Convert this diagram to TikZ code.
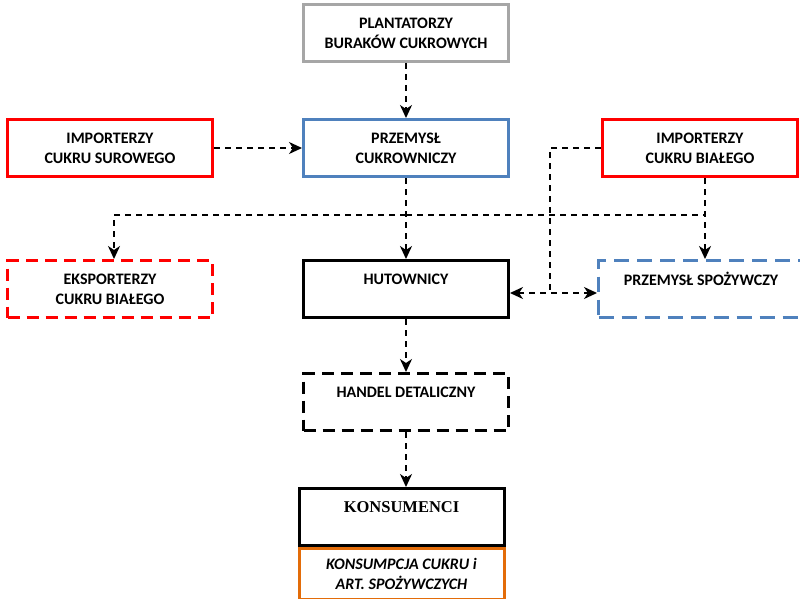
\documentclass[tikz,border=0pt]{standalone}
\usepackage{fontspec}
\setmainfont{Carlito}
\newfontfamily\serifbold{Liberation Serif}
\usetikzlibrary{arrows.meta}
\definecolor{myred}{HTML}{FF0000}
\definecolor{myblue}{HTML}{4F81BD}
\definecolor{mygray}{HTML}{A6A6A6}
\definecolor{myorange}{HTML}{E36C09}
\tikzset{
  box/.style={draw, line width=3pt, minimum width=205pt, minimum height=57pt,
    inner sep=0pt, align=center, font=\fontsize{16}{20}\selectfont\bfseries},
  boxdash/.style={box, dash pattern=on 12pt off 7pt},
  conn/.style={line width=2pt, dash pattern=on 6pt off 5pt},
  arr/.style={conn, -{Stealth[length=13pt,width=12pt,inset=4pt]}},
  darr/.style={conn, {Stealth[length=13pt,width=12pt,inset=4pt]}-{Stealth[length=13pt,width=12pt,inset=4pt]}},
}
\begin{document}
\begin{tikzpicture}[x=1pt,y=1pt]
\clip (0,0) rectangle (800,-599);
\fill[white] (0,0) rectangle (800,-599);
% nodes
\node[box, draw=mygray] (plant) at (406,-33) {PLANTATORZY\\BURAKÓW CUKROWYCH};
\node[box, draw=myblue] (prz) at (406,-148) {PRZEMYSŁ\\CUKROWNICZY};
\node[box, draw=myred] (impS) at (110,-148) {IMPORTERZY\\CUKRU SUROWEGO};
\node[box, draw=myred, minimum width=195pt] (impB) at (700,-148) {IMPORTERZY\\CUKRU BIAŁEGO};
\node[boxdash, draw=myred] (eksp) at (110,-289) {EKSPORTERZY\\CUKRU BIAŁEGO};
\node[box] (hut) at (406,-289) {HUTOWNICY\\\mbox{}};
\node[boxdash, draw=myblue, dash pattern=on 15pt off 8pt] (spoz) at (701,-289) {PRZEMYSŁ SPOŻYWCZY\\\mbox{}};
\node[boxdash] (handel) at (406,-402) {HANDEL DETALICZNY\\\mbox{}};
\node[box, draw=myorange, minimum height=51pt, anchor=north, font=\fontsize{16}{20}\selectfont\bfseries\itshape] (cons) at (401.5,-547) {KONSUMPCJA CUKRU i\\ART. SPOŻYWCZYCH};
\node[box, anchor=south, font=\fontsize{16.5}{20}\serifbold\bfseries] (kons) at (401.5,-547) {KONSUMENCI\\\mbox{}};
% junctions
\coordinate (j1) at (406,-215);
\coordinate (jl) at (114,-215);
\coordinate (jr) at (705,-215);
\coordinate (jm) at (550,-293);
% connectors
\draw[arr] (plant) -- (prz);
\draw[arr] (impS) -- (prz);
\draw[arr] (prz) -- (hut);
\draw[arr] (j1) -- (jl) -- (eksp.north -| jl);
\draw[conn] (j1) -- (jr);
\draw[arr] (impB.south -| jr) -- (spoz.north -| jr);
\draw[conn] (impB.west) -| (jm);
\draw[darr] (hut.east |- jm) -- (spoz.west |- jm);
\draw[arr] (hut) -- (handel);
\draw[arr] (handel.south) -- (handel.south |- kons.north);
\end{tikzpicture}
\end{document}
